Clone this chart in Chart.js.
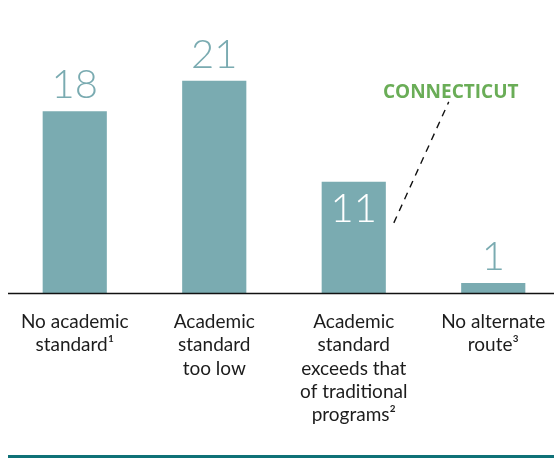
<!DOCTYPE html>
<html>
<head>
<meta charset="utf-8">
<script src="https://cdn.jsdelivr.net/npm/chart.js@4"></script>
<style>
  html, body { margin: 0; padding: 0; background: #fff; overflow: hidden; }
  #wrap { width: 554px; height: 458px; overflow: hidden; position: relative; }
  canvas { position: absolute; left: 0; top: 0; }
</style>
</head>
<body>
<div id="wrap"><canvas id="chart" width="570" height="458"></canvas></div>
<script>
/* ── Data ─────────────────────────────────────────── */
const categories = [
    ["No academic", "standard\u00B9"],
    ["Academic", "standard", "too low"],
    ["Academic", "standard", "exceeds that", "of traditional", "programs\u00B2"],
    ["No alternate", "route\u00B3"],
];
const stateCounts = [18, 21, 11, 1];
const calloutIndex = 2;
const calloutLabel = "CONNECTICUT";

const BAR_COLOR   = "#7aabb1";
const TEXT_COLOR  = "#1c1c1c";
const GREEN       = "#6aad57";
const RULE_COLOR  = "#0f7177";

/* ── Custom drawing: values, baseline, callout ────── */
const decorations = {
    id: "decorations",
    afterDatasetsDraw(chart) {
        const { ctx, chartArea } = chart;
        const bars = chart.getDatasetMeta(0).data;
        ctx.save();

        // baseline
        ctx.strokeStyle = "#111";
        ctx.lineWidth = 1.6;
        ctx.beginPath();
        ctx.moveTo(8, chartArea.bottom + 0.5);
        ctx.lineTo(554, chartArea.bottom + 0.5);
        ctx.stroke();

        // bottom teal rule
        ctx.fillStyle = RULE_COLOR;
        ctx.fillRect(8, 455, 546, 3);

        // values
        ctx.font = "300 40px Lato, 'Open Sans', sans-serif";
        ctx.textAlign = "center";
        bars.forEach((bar, i) => {
            const inside = i === calloutIndex;
            ctx.fillStyle = inside ? "#ffffff" : BAR_COLOR;
            ctx.textBaseline = inside ? "top" : "alphabetic";
            const y = inside ? bar.y + 7 : bar.y - 13;
            ctx.fillText(String(stateCounts[i]), bar.x, y);
        });

        // callout
        const b = bars[calloutIndex];
        ctx.strokeStyle = "#111";
        ctx.lineWidth = 1.4;
        ctx.setLineDash([7, 6]);
        ctx.beginPath();
        ctx.moveTo(b.x + b.width / 2 + 8, b.y + 41);
        ctx.lineTo(b.x + 95, b.y - 80);
        ctx.stroke();
        ctx.setLineDash([]);

        ctx.fillStyle = GREEN;
        ctx.font = "bold 19px 'Open Sans', sans-serif";
        ctx.textBaseline = "alphabetic";
        ctx.fillText(calloutLabel, b.x + 97, b.y - 84);

        ctx.restore();
    },
};

new Chart(document.getElementById("chart"), {
    type: "bar",
    data: {
        labels: categories,
        datasets: [{
            data: stateCounts,
            backgroundColor: BAR_COLOR,
            borderWidth: 0,
            barPercentage: 0.92,
            categoryPercentage: 0.5,
        }],
    },
    options: {
        responsive: false,
        animation: false,
        layout: { padding: { left: 5, right: 7, top: 0, bottom: 0 } },
        plugins: { legend: { display: false }, tooltip: { enabled: false } },
        scales: {
            x: {
                grid: { display: false },
                border: { display: false },
                ticks: {
                    color: TEXT_COLOR,
                    font: { family: "Lato, 'Open Sans', sans-serif", size: 19, lineHeight: 1.23 },
                    padding: 9,
                    maxRotation: 0,
                    autoSkip: false,
                },
                afterFit: (s) => { s.height = 165; },
            },
            y: { display: false, min: 0, max: 29.0 },
        },
    },
    plugins: [decorations],
});
</script>
</body>
</html>
